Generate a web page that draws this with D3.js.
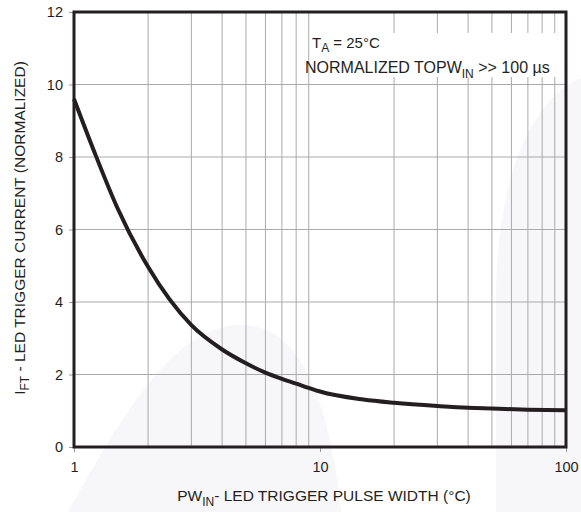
<!DOCTYPE html>
<html lang="en">
<head>
  <meta charset="utf-8">
  <title>LED trigger current vs pulse width</title>
  <script type="text/javascript" src="https://d3js.org/d3.v7.min.js"></script>
</head>
<style>
body {
  margin: 0;
  background: #fff;
  font-family: "Liberation Sans", Arial, sans-serif;
}
</style>
<body>
<script type="text/javascript">
// curve
var pulseWidth = [1, 1.2, 1.5, 2, 3, 4, 5, 6, 7, 8, 9, 10, 15, 20, 30, 40, 50, 70, 100];
var triggerCurrent = [9.6, 8.2, 6.6, 4.97, 3.36, 2.69, 2.31, 2.05, 1.88, 1.75, 1.63, 1.53, 1.31, 1.22, 1.13, 1.08, 1.06, 1.03, 1.01];
var xTicks = [1, 10, 100];
var yTicks = [0, 2, 4, 6, 8, 10, 12];
var xGrid = [2, 3, 4, 5, 6, 7, 8, 9, 20, 30, 40, 50, 60, 70, 80, 90];
var yGrid = [2, 4, 6, 8, 10];

var w = 581, h = 512;
var ink = "#231f20";

var x = d3.scaleLog().domain([1, 100]).range([74, 566]);
var y = d3.scaleLinear().domain([0, 12]).range([447, 12]);

var svg = d3.select("body").append("svg")
  .attr("width", w)
  .attr("height", h);

// faint watermark shapes in the background
svg.append("path")
  .attr("d", "M68,512 C120,420 170,330 236,325 C300,320 330,400 341,512 Z")
  .attr("fill", "#f7f6f9");
svg.append("path")
  .attr("d", "M496,512 L496,300 C496,180 530,100 581,78 L581,512 Z")
  .attr("fill", "#f7f6f9");

// grid
svg.append("g").selectAll("line")
  .data(xGrid).enter().append("line")
  .attr("x1", function(d) { return x(d); })
  .attr("x2", function(d) { return x(d); })
  .attr("y1", y(12)).attr("y2", y(0))
  .attr("stroke", "#aaa").attr("stroke-width", 1);

svg.append("g").selectAll("line")
  .data(yGrid).enter().append("line")
  .attr("x1", x(1)).attr("x2", x(100))
  .attr("y1", function(d) { return y(d); })
  .attr("y2", function(d) { return y(d); })
  .attr("stroke", "#aaa").attr("stroke-width", 1);

// axes (ticks + labels only, frame drawn below)
var xAxis = d3.axisBottom(x).tickValues(xTicks).tickFormat(d3.format("d"))
  .tickSize(5).tickPadding(10);
var yAxis = d3.axisLeft(y).tickValues(yTicks).tickSize(5).tickPadding(6);

var gx = svg.append("g").attr("transform", "translate(0," + y(0) + ")").call(xAxis);
var gy = svg.append("g").attr("transform", "translate(" + x(1) + ",0)").call(yAxis);
[gx, gy].forEach(function(g) {
  g.select(".domain").remove();
  g.selectAll(".tick line").attr("stroke", "#999");
  g.selectAll(".tick text")
    .attr("fill", ink)
    .style("font-size", "14.5px")
    .style("font-family", "'Liberation Sans', Arial, sans-serif");
});

// white patch behind the annotation
svg.append("rect")
  .attr("x", 322).attr("y", 33)
  .attr("width", 242).attr("height", 44)
  .attr("fill", "#fff");

// frame
svg.append("rect")
  .attr("x", x(1)).attr("y", y(12))
  .attr("width", x(100) - x(1)).attr("height", y(0) - y(12))
  .attr("fill", "none").attr("stroke", ink).attr("stroke-width", 3);

// curve
var line = d3.line()
  .x(function(d, i) { return x(pulseWidth[i]); })
  .y(function(d) { return y(d); })
  .curve(d3.curveMonotoneX);

svg.append("path")
  .datum(triggerCurrent)
  .attr("d", line)
  .attr("fill", "none")
  .attr("stroke", ink)
  .attr("stroke-width", 4);

// annotation
var note = svg.append("g").attr("fill", ink);
var t1 = note.append("text").attr("x", 312).attr("y", 48).style("font-size", "15px");
t1.append("tspan").text("T");
t1.append("tspan").attr("dy", 4).style("font-size", "12px").text("A");
t1.append("tspan").attr("dy", -4).text(" = 25\u00b0C");

var t2 = note.append("text").attr("x", 305).attr("y", 73).style("font-size", "16px");
t2.append("tspan").text("NORMALIZED TO");
t2.append("tspan").text("PW");
t2.append("tspan").attr("dy", 5).style("font-size", "12px").text("IN");
t2.append("tspan").attr("dy", -5).text(" >> 100 \u00b5s");

// axis titles
var xt = svg.append("text")
  .attr("x", 324).attr("y", 501)
  .attr("text-anchor", "middle")
  .attr("fill", ink).style("font-size", "15.5px");
xt.append("tspan").text("PW");
xt.append("tspan").attr("dy", 5).style("font-size", "12px").text("IN");
xt.append("tspan").attr("dy", -5).text("- LED TRIGGER PULSE WIDTH (\u00b0C)");

var yt = svg.append("text")
  .attr("transform", "translate(25,228) rotate(-90)")
  .attr("text-anchor", "middle")
  .attr("fill", ink).style("font-size", "15.5px");
yt.append("tspan").text("I");
yt.append("tspan").attr("dy", 4).style("font-size", "12px").text("FT");
yt.append("tspan").attr("dy", -4).text(" - LED TRIGGER CURRENT (NORMALIZED)");
</script>
</body>
</html>
